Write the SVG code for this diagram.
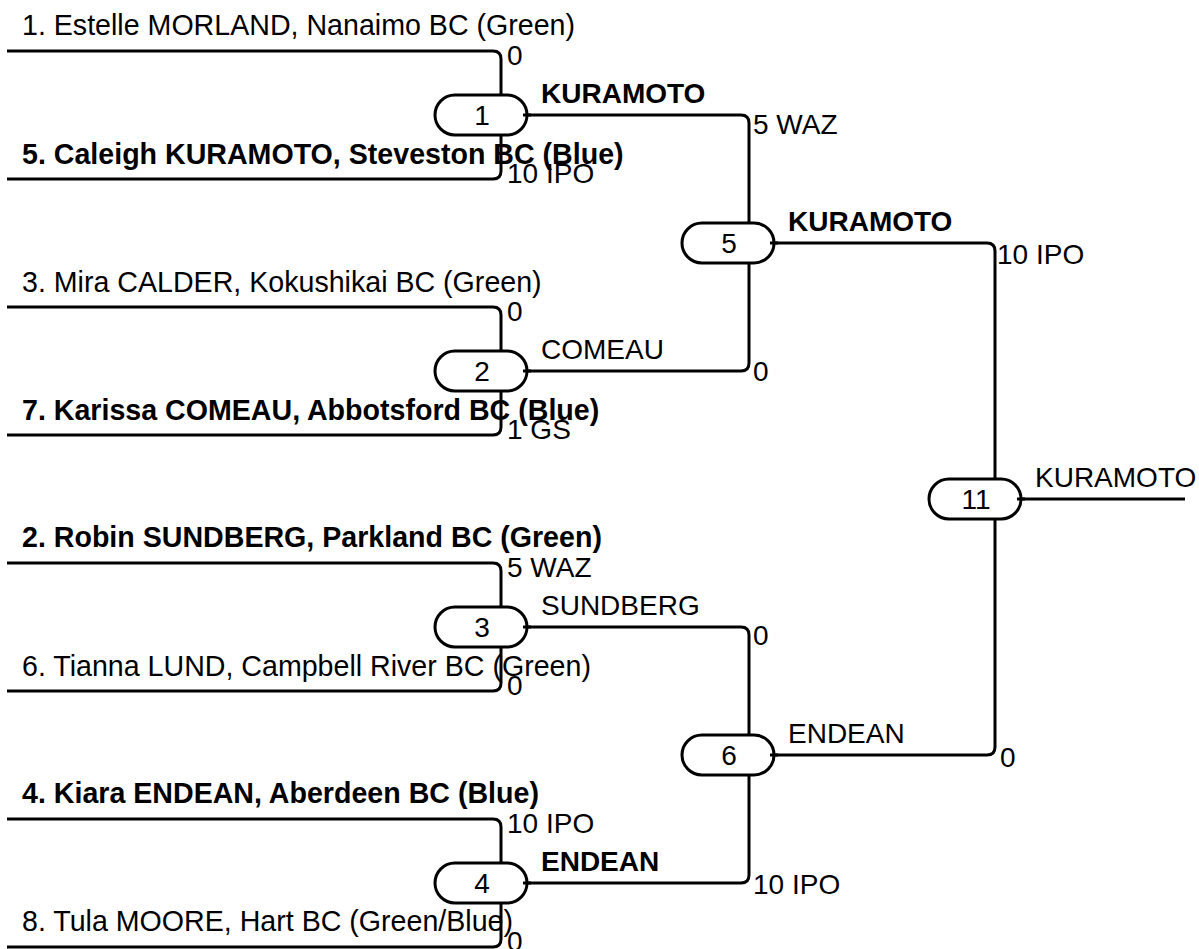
<svg xmlns="http://www.w3.org/2000/svg" width="1199" height="949" viewBox="0 0 1199 949">
<style>
text{font-family:"Liberation Sans",Arial,sans-serif;font-size:28px;fill:#000}
.b{font-weight:bold}
.nm{font-size:28.6px}
.ln{fill:none;stroke:#000;stroke-width:3}
.pill{fill:#fff;stroke:#000;stroke-width:3}
.num{text-anchor:middle}
</style>
<rect width="1199" height="949" fill="#fff"/>
<g id="connectors" class="ln">
<path d="M7 51 H493 Q501 51 501 59 V115"/>
<path d="M7 179 H493 Q501 179 501 171 V115"/>
<path d="M7 307 H493 Q501 307 501 315 V371"/>
<path d="M7 435 H493 Q501 435 501 427 V371"/>
<path d="M7 563 H493 Q501 563 501 571 V627"/>
<path d="M7 691 H493 Q501 691 501 683 V627"/>
<path d="M7 819 H493 Q501 819 501 827 V883"/>
<path d="M7 947 H493 Q501 947 501 939 V883"/>
<path d="M523 115 H741 Q749 115 749 123 V243"/>
<path d="M523 371 H741 Q749 371 749 363 V243"/>
<path d="M523 627 H741 Q749 627 749 635 V755"/>
<path d="M523 883 H741 Q749 883 749 875 V755"/>
<path d="M771 243 H987 Q995 243 995 251 V499"/>
<path d="M771 755 H987 Q995 755 995 747 V499"/>
<path d="M1018 499 H1185"/>
</g>
<g id="entrants">
<text x="22" y="35" class="nm">1. Estelle MORLAND, Nanaimo BC (Green)</text>
<text x="22" y="164" class="nm b">5. Caleigh KURAMOTO, Steveston BC (Blue)</text>
<text x="22" y="292" class="nm">3. Mira CALDER, Kokushikai BC (Green)</text>
<text x="22" y="420" class="nm b">7. Karissa COMEAU, Abbotsford BC (Blue)</text>
<text x="22" y="547" class="nm b">2. Robin SUNDBERG, Parkland BC (Green)</text>
<text x="22" y="676" class="nm">6. Tianna LUND, Campbell River BC (Green)</text>
<text x="22" y="803" class="nm b">4. Kiara ENDEAN, Aberdeen BC (Blue)</text>
<text x="22" y="931" class="nm">8. Tula MOORE, Hart BC (Green/Blue)</text>
</g>
<g id="m1">
<rect class="pill" x="435" y="95" width="92" height="40" rx="20"/>
<path class="ln" d="M523 115 H531"/>
<text class="num" x="482" y="125">1</text>
<text x="507" y="65">0</text>
<text x="507" y="183">10 IPO</text>
<text x="541" y="103" class="b">KURAMOTO</text>
</g>
<g id="m2">
<rect class="pill" x="435" y="351" width="92" height="40" rx="20"/>
<path class="ln" d="M523 371 H531"/>
<text class="num" x="482" y="381">2</text>
<text x="507" y="321">0</text>
<text x="507" y="439">1 GS</text>
<text x="541" y="359">COMEAU</text>
</g>
<g id="m3">
<rect class="pill" x="435" y="607" width="92" height="40" rx="20"/>
<path class="ln" d="M523 627 H531"/>
<text class="num" x="482" y="637">3</text>
<text x="507" y="577">5 WAZ</text>
<text x="507" y="695">0</text>
<text x="541" y="615">SUNDBERG</text>
</g>
<g id="m4">
<rect class="pill" x="435" y="863" width="92" height="40" rx="20"/>
<path class="ln" d="M523 883 H531"/>
<text class="num" x="482" y="893">4</text>
<text x="507" y="833">10 IPO</text>
<text x="507" y="951">0</text>
<text x="541" y="871" class="b">ENDEAN</text>
</g>
<g id="m5">
<rect class="pill" x="682" y="223" width="92" height="40" rx="20"/>
<path class="ln" d="M770 243 H778"/>
<text class="num" x="729" y="253">5</text>
<text x="753" y="134">5 WAZ</text>
<text x="753" y="381">0</text>
<text x="788" y="231" class="b">KURAMOTO</text>
</g>
<g id="m6">
<rect class="pill" x="682" y="735" width="92" height="40" rx="20"/>
<path class="ln" d="M770 755 H778"/>
<text class="num" x="729" y="765">6</text>
<text x="753" y="645">0</text>
<text x="753" y="894">10 IPO</text>
<text x="788" y="743">ENDEAN</text>
</g>
<g id="m11">
<rect class="pill" x="929" y="479" width="92" height="40" rx="20"/>
<path class="ln" d="M1017 499 H1025"/>
<text class="num" x="976" y="509">11</text>
<text x="997" y="264">10 IPO</text>
<text x="1000" y="767">0</text>
<text x="1035" y="487">KURAMOTO</text>
</g>
</svg>
